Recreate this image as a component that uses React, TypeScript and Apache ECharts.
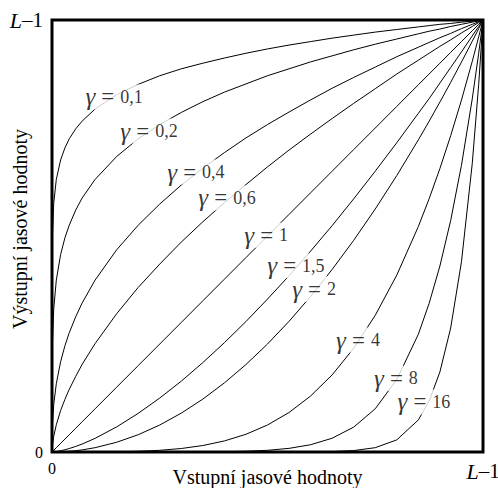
import React, { useEffect, useRef } from "react";
import * as echarts from "echarts";

const xs = [0, 0.0001, 0.001, 0.004, 0.01, 0.02, 0.03, 0.04, 0.055, 0.07, 0.1, 0.15, 0.2, 0.25, 0.3, 0.35, 0.4, 0.45, 0.5, 0.55, 0.6, 0.65, 0.7, 0.75, 0.8, 0.85, 0.875, 0.9, 0.925, 0.95, 0.975, 0.99, 1];

const gammaNames = ["0,1", "0,2", "0,4", "0,6", "1", "1,5", "2", "4", "8", "16"];

const yG01 = [0, 0.398, 0.501, 0.576, 0.631, 0.676, 0.704, 0.725, 0.748, 0.766, 0.794, 0.827, 0.851, 0.871, 0.887, 0.9, 0.912, 0.923, 0.933, 0.942, 0.95, 0.958, 0.965, 0.972, 0.978, 0.984, 0.987, 0.99, 0.992, 0.995, 0.9975, 0.999, 1];
const yG02 = [0, 0.158, 0.251, 0.331, 0.398, 0.457, 0.496, 0.525, 0.56, 0.588, 0.631, 0.684, 0.725, 0.758, 0.786, 0.811, 0.833, 0.852, 0.871, 0.887, 0.903, 0.917, 0.931, 0.944, 0.956, 0.968, 0.974, 0.979, 0.985, 0.99, 0.995, 0.998, 1];
const yG04 = [0, 0.025, 0.063, 0.11, 0.158, 0.209, 0.246, 0.276, 0.313, 0.345, 0.398, 0.468, 0.525, 0.574, 0.618, 0.657, 0.693, 0.727, 0.758, 0.787, 0.815, 0.842, 0.867, 0.891, 0.915, 0.937, 0.948, 0.959, 0.969, 0.98, 0.99, 0.996, 1];
const yG06 = [0, 0.004, 0.016, 0.036, 0.063, 0.096, 0.122, 0.145, 0.175, 0.203, 0.251, 0.32, 0.381, 0.435, 0.486, 0.533, 0.577, 0.619, 0.66, 0.699, 0.736, 0.772, 0.807, 0.841, 0.875, 0.907, 0.923, 0.939, 0.954, 0.97, 0.985, 0.994, 1];
const yG1 = [0, 0.0001, 0.001, 0.004, 0.01, 0.02, 0.03, 0.04, 0.055, 0.07, 0.1, 0.15, 0.2, 0.25, 0.3, 0.35, 0.4, 0.45, 0.5, 0.55, 0.6, 0.65, 0.7, 0.75, 0.8, 0.85, 0.875, 0.9, 0.925, 0.95, 0.975, 0.99, 1];
const yG15 = [0, 0, 0.00003, 0.00025, 0.001, 0.0028, 0.0052, 0.008, 0.0129, 0.0185, 0.0316, 0.0581, 0.0894, 0.125, 0.164, 0.207, 0.253, 0.302, 0.354, 0.408, 0.465, 0.524, 0.586, 0.65, 0.716, 0.784, 0.818, 0.854, 0.89, 0.926, 0.963, 0.985, 1];
const yG2 = [0, 0, 0, 0.00002, 0.0001, 0.0004, 0.0009, 0.0016, 0.003, 0.0049, 0.01, 0.0225, 0.04, 0.0625, 0.09, 0.1225, 0.16, 0.2025, 0.25, 0.3025, 0.36, 0.4225, 0.49, 0.5625, 0.64, 0.7225, 0.7656, 0.81, 0.8556, 0.9025, 0.9506, 0.9801, 1];
const yG4 = [0, 0, 0, 0, 0, 0, 0, 0, 0.00001, 0.00002, 0.0001, 0.0005, 0.0016, 0.0039, 0.0081, 0.015, 0.0256, 0.041, 0.0625, 0.0915, 0.1296, 0.1785, 0.2401, 0.3164, 0.4096, 0.522, 0.5862, 0.6561, 0.7321, 0.8145, 0.904, 0.961, 1];
const yG8 = [0, 0, 0, 0, 0, 0, 0, 0, 0, 0, 0, 0, 0, 0.00002, 0.00007, 0.00023, 0.00066, 0.0017, 0.0039, 0.0084, 0.0168, 0.0319, 0.0576, 0.1001, 0.1678, 0.2725, 0.344, 0.4305, 0.536, 0.6634, 0.817, 0.923, 1];
const yG16 = [0, 0, 0, 0, 0, 0, 0, 0, 0, 0, 0, 0, 0, 0, 0, 0, 0, 0, 0.00002, 0.00007, 0.00028, 0.001, 0.0033, 0.01, 0.0281, 0.0743, 0.118, 0.1853, 0.287, 0.4401, 0.667, 0.851, 1];

const curveY: number[][] = [yG01, yG02, yG04, yG06, yG1, yG15, yG2, yG4, yG8, yG16];

const labelX = [0.144, 0.225, 0.334, 0.406, 0.497, 0.566, 0.608, 0.71, 0.798, 0.863];
const labelY = [0.822, 0.743, 0.648, 0.588, 0.502, 0.431, 0.377, 0.259, 0.171, 0.116];

const SERIF = "Liberation Serif";

export default function App() {
  const ref = useRef<HTMLDivElement>(null);
  useEffect(() => {
    if (!ref.current) return;
    const chart = echarts.init(ref.current, null, { renderer: "svg" });
    const lineSeries = curveY.map((ys, i) => ({
      type: "line",
      name: "g" + gammaNames[i],
      data: xs.map((x, k) => [x, ys[k]]),
      showSymbol: false,
      symbol: "none",
      lineStyle: { color: "#000", width: 1 },
      z: 2,
      silent: true,
    }));
    const labelSeries = {
      type: "scatter",
      z: 10,
      symbolSize: 1,
      itemStyle: { color: "rgba(0,0,0,0)" },
      data: labelX.map((x, i) => ({ value: [x, labelY[i]], name: gammaNames[i] })),
      label: {
        show: true,
        position: "inside",
        formatter: (p: any) => "{g|γ}{e|=}{n|" + p.name + "}",
        color: "#000",
        fontFamily: SERIF,
        fontSize: 17,
        backgroundColor: "#fff",
        padding: [0, 2, 0, 2],
        rich: {
          g: { fontStyle: "italic", fontSize: 25, fontFamily: SERIF, color: "#000", padding: [0, 2, 0, 0] },
          e: { fontSize: 23, fontFamily: SERIF, color: "#000", padding: [0, 6, 0, 4] },
          n: { fontSize: 18, fontFamily: SERIF, color: "#000" },
        },
      },
      silent: true,
    };
    const lFormatter = (v: number) => (v === 0 ? "{z|0}" : "{l|L}{n|–1}");
    const rich = {
      z: { fontFamily: SERIF, fontSize: 16, color: "#000" },
      n: { fontFamily: SERIF, fontSize: 21, color: "#000" },
      l: { fontFamily: SERIF, fontSize: 22, fontStyle: "italic", color: "#000" },
    };
    chart.setOption({
      animation: false,
      grid: {
        left: 52,
        right: 15,
        top: 20,
        bottom: 36,
        outerBoundsMode: "none",
        containLabel: false,
        show: true,
        borderWidth: 3,
        borderColor: "#000",
        backgroundColor: "transparent",
      },
      xAxis: {
        type: "value",
        min: 0,
        max: 1,
        interval: 1,
        axisLine: { show: false },
        axisTick: { show: false },
        splitLine: { show: false },
        axisLabel: { formatter: lFormatter, rich, margin: 8 },
        name: "Vstupní jasové hodnoty",
        nameLocation: "middle",
        nameGap: 15,
        nameMoveOverlap: false,
        nameTextStyle: { fontFamily: SERIF, fontSize: 20, color: "#000" },
      },
      yAxis: {
        type: "value",
        min: 0,
        max: 1,
        interval: 1,
        axisLine: { show: false },
        axisTick: { show: false },
        splitLine: { show: false },
        axisLabel: { formatter: lFormatter, rich, margin: 9 },
        name: "Výstupní jasové hodnoty",
        nameLocation: "middle",
        nameGap: 22,
        nameMoveOverlap: false,
        nameTextStyle: { fontFamily: SERIF, fontSize: 20, color: "#000", padding: [0, 0, 0, 14] },
      },
      series: [...lineSeries, labelSeries],
    } as any);
    return () => chart.dispose();
  }, []);
  return (
    <div
      ref={ref}
      style={{ position: "absolute", left: 0, top: 0, width: 498, height: 488, background: "#fff" }}
    />
  );
}
